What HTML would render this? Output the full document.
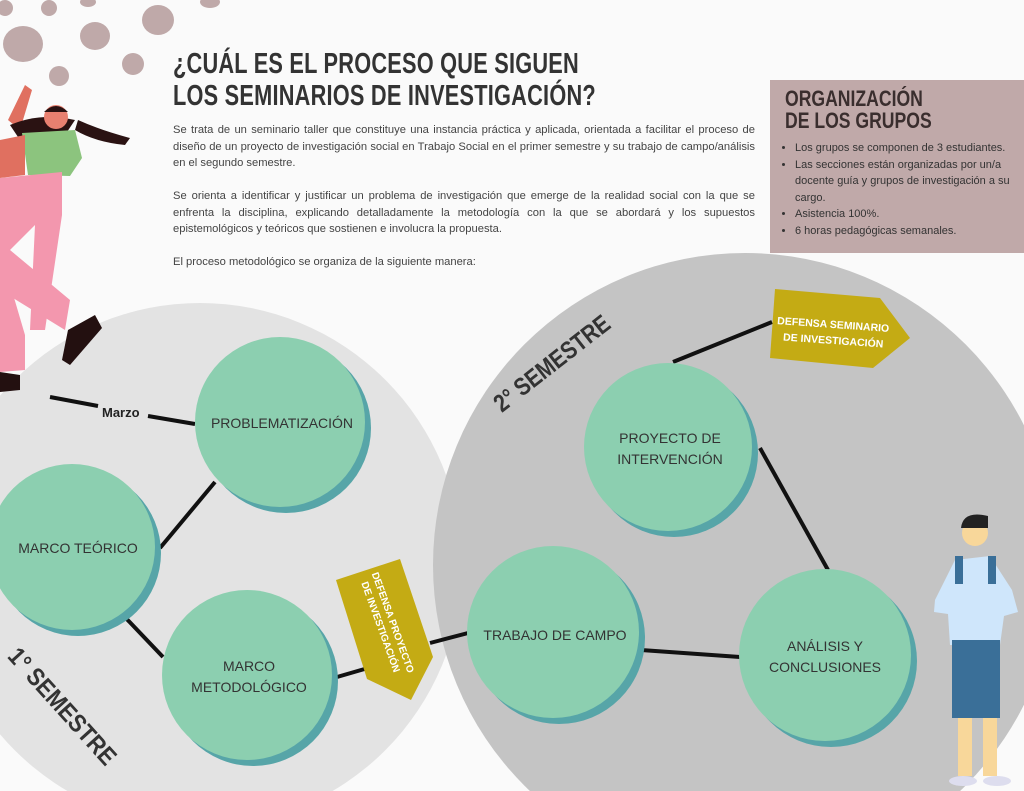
<!DOCTYPE html>
<html><head><meta charset="utf-8"><style>
html,body{margin:0;padding:0;background:#fafafa;overflow:hidden;width:1024px;height:791px;}
body{position:relative;font-family:"Liberation Sans",sans-serif;}
.t{position:absolute;left:173px;top:48px;font-weight:bold;font-size:29px;line-height:32px;color:#333;letter-spacing:0.3px;transform:scaleX(0.75);transform-origin:left top;white-space:nowrap;}
.p{position:absolute;left:173px;width:582px;font-size:11.2px;line-height:16.5px;color:#444;text-align:justify;}
.box{position:absolute;left:770px;top:80px;width:254px;height:173px;background:#c0a9a9;overflow:hidden;}
.box h2{margin:0;position:absolute;left:15px;top:8px;font-size:22px;line-height:22px;color:#3a2e2e;font-weight:bold;transform:scaleX(0.8);transform-origin:left top;white-space:nowrap;}
.box ul{position:absolute;left:8px;top:60px;margin:0;padding-left:17px;width:224px;font-size:11px;line-height:16.5px;color:#333;}
</style></head><body>
<svg width="1024" height="791" style="position:absolute;left:0;top:0">
<circle cx="200" cy="565" r="262" fill="#e3e3e3"/>
<circle cx="745" cy="565" r="312" fill="#c4c4c4"/>
<g fill="#bfa9a9">
<ellipse cx="23" cy="44" rx="20" ry="18"/><ellipse cx="49" cy="8" rx="8" ry="8"/><ellipse cx="95" cy="36" rx="15" ry="14"/>
<ellipse cx="158" cy="20" rx="16" ry="15"/><ellipse cx="133" cy="64" rx="11" ry="11"/><ellipse cx="59" cy="76" rx="10" ry="10"/>
<ellipse cx="210" cy="2" rx="10" ry="6"/><ellipse cx="88" cy="2" rx="8" ry="5"/><ellipse cx="5" cy="8" rx="8" ry="8"/>
</g>
<path d="M8 120 L25 85 L32 90 L20 130 Z" fill="#e07060"/>
<path d="M10 125 Q40 112 75 120 L65 135 L20 140 Z" fill="#2a1212"/>
<path d="M78 120 Q100 130 130 138 L125 145 Q95 142 75 130 Z" fill="#2a1212"/>
<circle cx="56" cy="117" r="12" fill="#e88070"/>
<path d="M44 112 Q56 100 68 112 Z" fill="#2a1212"/>
<path d="M22 133 L75 130 L82 158 L70 176 L28 175 Z" fill="#8cc47e"/>
<path d="M0 140 L25 135 L25 175 L0 178 Z" fill="#e07060"/>
<path d="M0 178 L62 172 L62 215 L45 330 L30 330 L35 225 L10 250 L70 300 L65 330 L0 290 Z" fill="#f397ae"/>
<path d="M0 250 L25 335 L25 370 L0 372 Z" fill="#f397ae"/>
<path d="M68 330 L95 315 L102 328 L70 365 L62 360 Z" fill="#231010"/>
<path d="M0 372 L20 375 L20 390 L0 392 Z" fill="#231010"/>
<path d="M935 600 L955 560 L990 556 L1012 590 L1018 612 L1004 616 L1000 645 L950 645 L948 614 L934 612 Z" fill="#cfe6fb"/>
<rect x="952" y="640" width="48" height="78" fill="#3a6f98"/>
<rect x="958" y="718" width="14" height="58" fill="#f8d79a"/><rect x="983" y="718" width="14" height="58" fill="#f8d79a"/>
<ellipse cx="963" cy="781" rx="14" ry="5" fill="#dde"/><ellipse cx="997" cy="781" rx="14" ry="5" fill="#dde"/>
<circle cx="975" cy="533" r="13" fill="#f8d79a"/><path d="M961 528 Q963 510 988 516 L988 528 Z" fill="#222"/>
<rect x="955" y="556" width="8" height="28" fill="#3a6f98"/><rect x="988" y="556" width="8" height="28" fill="#3a6f98"/>
<g stroke="#111" stroke-width="4" fill="none">
<line x1="50" y1="397" x2="98" y2="406"/><line x1="148" y1="416" x2="195" y2="424"/>
<line x1="215" y1="482" x2="160" y2="548"/><line x1="122" y1="614" x2="163" y2="657"/>
<line x1="337" y1="677" x2="368" y2="668"/><line x1="430" y1="643" x2="468" y2="633"/>
<line x1="641" y1="650" x2="740" y2="657"/><line x1="760" y1="448" x2="828" y2="570"/>
<line x1="673" y1="362" x2="772" y2="322"/>
</g>
<text x="102" y="417" font-size="13" font-weight="bold" fill="#222" font-family="Liberation Sans">Marzo</text>
<g fill="#57a5a8">
<circle cx="286" cy="428" r="85"/><circle cx="78" cy="553" r="83"/><circle cx="253" cy="681" r="85"/>
<circle cx="674" cy="453" r="84"/><circle cx="559" cy="638" r="86"/><circle cx="831" cy="661" r="86"/>
</g>
<g fill="#8ccfb0">
<circle cx="280" cy="422" r="85"/><circle cx="72" cy="547" r="83"/><circle cx="247" cy="675" r="85"/>
<circle cx="668" cy="447" r="84"/><circle cx="553" cy="632" r="86"/><circle cx="825" cy="655" r="86"/>
</g>
<g font-family="Liberation Sans" font-size="14" fill="#333" text-anchor="middle">
<text x="282" y="428">PROBLEMATIZACIÓN</text>
<text x="78" y="553">MARCO TEÓRICO</text>
<text x="249" y="671">MARCO</text><text x="249" y="692">METODOLÓGICO</text>
<text x="670" y="443">PROYECTO DE</text><text x="670" y="464">INTERVENCIÓN</text>
<text x="555" y="640">TRABAJO DE CAMPO</text>
<text x="825" y="651">ANÁLISIS Y</text><text x="825" y="672">CONCLUSIONES</text>
</g>
<polygon points="775,289 880,298 910,338 873,368 770,358" fill="#c4ab14"/>
<text x="833" y="328" font-size="10.5" font-weight="bold" fill="#fff" text-anchor="middle" font-family="Liberation Sans" transform="rotate(4 833 328)">DEFENSA SEMINARIO</text>
<text x="833" y="344" font-size="10.5" font-weight="bold" fill="#fff" text-anchor="middle" font-family="Liberation Sans" transform="rotate(4 833 344)">DE INVESTIGACIÓN</text>
<polygon points="336,580 400,559 433,657 411,700 367,679" fill="#c4ab14"/>
<g transform="translate(386,625) rotate(70)" font-size="10" font-weight="bold" fill="#fff" text-anchor="middle" font-family="Liberation Sans">
<text x="0" y="-4">DEFENSA PROYECTO</text><text x="0" y="9">DE INVESTIGACIÓN</text></g>
<text transform="translate(557,370) rotate(-38)" font-size="25" font-weight="bold" fill="#333" text-anchor="middle" font-family="Liberation Sans" textLength="140" lengthAdjust="spacingAndGlyphs">2° SEMESTRE</text>
<text transform="translate(56,712) rotate(48)" font-size="25" font-weight="bold" fill="#333" text-anchor="middle" font-family="Liberation Sans" textLength="148" lengthAdjust="spacingAndGlyphs">1° SEMESTRE</text>
</svg>
<div class="t">¿CUÁL ES EL PROCESO QUE SIGUEN<br>LOS SEMINARIOS DE INVESTIGACIÓN?</div>
<div class="p" style="top:122px">Se trata de un seminario taller que constituye una instancia práctica y aplicada, orientada a facilitar el proceso de diseño de un proyecto de investigación social en Trabajo Social en el primer semestre y su trabajo de campo/análisis en el segundo semestre.</div>
<div class="p" style="top:188px">Se orienta a identificar y justificar un problema de investigación que emerge de la realidad social con la que se enfrenta la disciplina, explicando detalladamente la metodología con la que se abordará y los supuestos epistemológicos y teóricos que sostienen e involucra la propuesta.</div>
<div class="p" style="top:254px">El proceso metodológico se organiza de la siguiente manera:</div>
<div class="box"><h2>ORGANIZACIÓN<br>DE LOS GRUPOS</h2>
<ul><li>Los grupos se componen de 3 estudiantes.</li><li>Las secciones están organizadas por un/a docente guía y grupos de investigación a su cargo.</li><li>Asistencia 100%.</li><li>6 horas pedagógicas semanales.</li></ul></div>
</body></html>
